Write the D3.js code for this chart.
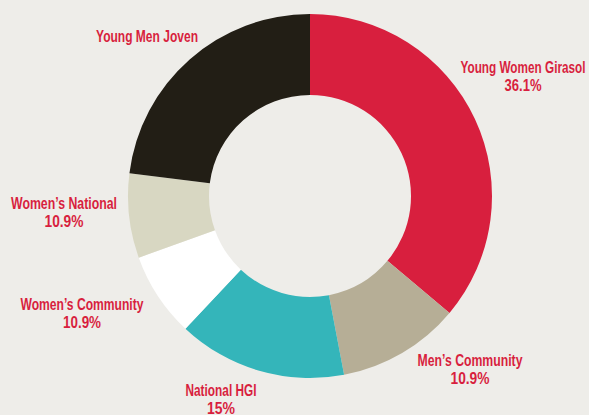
<!DOCTYPE html>
<html lang="en">
<head>
<meta charset="UTF-8">
<title>Donut</title>
<script src="https://d3js.org/d3.v7.min.js"></script>
<style>
    body { margin: 0; background: #eeede9; }
    svg { display: block; }
    .lbl {
        font-family: "Liberation Sans", Arial, sans-serif;
        font-weight: bold;
        font-size: 17px;
        fill: #d81f3e;
    }
</style>
</head>
<body>
<svg id="chart" width="589" height="415"></svg>
<script>
// slice data, clockwise from 12 o'clock
const categories = ["Young Women Girasol", "Men\u2019s Community", "National HGI",
                    "Women\u2019s Community", "Women\u2019s National", "Young Men Joven"];
const values = [36.1, 10.9, 15, 7.5, 7.5, 23];
const pctLabels = ["36.1%", "10.9%", "15%", "10.9%", "10.9%", ""];
const colors = ["#d81f3e", "#b6ae96", "#34b5ba", "#ffffff", "#d8d7c2", "#221e15"];

// label layout: centre x, first baseline, width of name line, width of % line
// (the original uses a condensed face, so lines are squeezed to size)
const labelPos = [[523, 73], [470, 366], [221, 396], [82, 310], [64, 209], [147, 42]];
const nameW = [125, 105, 71, 123, 106, 102];
const pctW = [37, 39, 28, 38, 39, 0];

const width = 589, height = 415;
const cx = 310, cy = 196;
const outerR = 182, innerR = 101;

const svg = d3.select("#chart");
svg.append("rect").attr("width", width).attr("height", height).attr("fill", "#eeede9");

const g = svg.append("g").attr("transform", `translate(${cx},${cy})`);

const pie = d3.pie().sort(null).value(d => d);
const arc = d3.arc().innerRadius(innerR).outerRadius(outerR);

g.selectAll("path")
    .data(pie(values))
    .enter()
    .append("path")
    .attr("d", arc)
    .attr("fill", (d, i) => colors[i]);

// labels
const labels = svg.selectAll("g.label")
    .data(categories)
    .enter()
    .append("g")
    .attr("class", "label");

labels.append("text")
    .attr("class", "lbl")
    .attr("text-anchor", "middle")
    .attr("x", (d, i) => labelPos[i][0])
    .attr("y", (d, i) => labelPos[i][1])
    .attr("textLength", (d, i) => nameW[i])
    .attr("lengthAdjust", "spacingAndGlyphs")
    .text(d => d);

labels.filter((d, i) => pctLabels[i] !== "")
    .append("text")
    .attr("class", "lbl")
    .attr("text-anchor", "middle")
    .attr("x", d => labelPos[categories.indexOf(d)][0])
    .attr("y", d => labelPos[categories.indexOf(d)][1] + 18)
    .attr("textLength", d => pctW[categories.indexOf(d)])
    .attr("lengthAdjust", "spacingAndGlyphs")
    .text(d => pctLabels[categories.indexOf(d)]);
</script>
</body>
</html>
